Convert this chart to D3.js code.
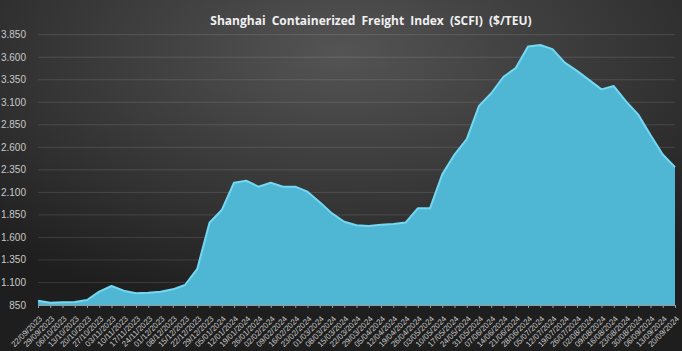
<!DOCTYPE html>
<html>
<head>
<meta charset="utf-8">
<script src="https://cdn.jsdelivr.net/npm/d3@7"></script>
<style>
  body { margin: 0; background: #222; }
  svg { display: block; }
</style>
</head>
<body>
<div id="chart"></div>
<script>
// weekly dates and SCFI values ($/TEU)
const dates = ["22/09/2023", "29/09/2023", "06/10/2023", "13/10/2023", "20/10/2023", "27/10/2023",
  "03/11/2023", "10/11/2023", "17/11/2023", "24/11/2023", "01/12/2023", "08/12/2023", "15/12/2023",
  "22/12/2023", "29/12/2023", "05/01/2024", "12/01/2024", "19/01/2024", "26/01/2024", "02/02/2024",
  "09/02/2024", "16/02/2024", "23/02/2024", "01/03/2024", "08/03/2024", "15/03/2024", "22/03/2024",
  "29/03/2024", "05/04/2024", "12/04/2024", "19/04/2024", "26/04/2024", "03/05/2024", "10/05/2024",
  "17/05/2024", "24/05/2024", "31/05/2024", "07/06/2024", "14/06/2024", "21/06/2024", "28/06/2024",
  "05/07/2024", "12/07/2024", "19/07/2024", "26/07/2024", "02/08/2024", "09/08/2024", "16/08/2024",
  "23/08/2024", "30/08/2024", "06/09/2024", "13/09/2024", "20/09/2024"];

const scfi = [898, 875, 880, 883, 905, 998, 1061, 1009, 980, 987, 998, 1024, 1072,
  1250, 1763, 1904, 2207, 2229, 2163, 2207, 2163, 2163, 2107, 1990, 1867, 1774, 1735,
  1727, 1740, 1750, 1765, 1923, 1923, 2300, 2520, 2690, 3060, 3200, 3383, 3480, 3720,
  3735, 3690, 3540, 3449, 3346, 3243, 3280, 3110, 2963, 2736, 2520, 2380];

const yTicks = [850, 1100, 1350, 1600, 1850, 2100, 2350, 2600, 2850, 3100, 3350, 3600, 3850];

const W = 682, H = 351;
const margin = { top: 35, right: 7, bottom: 46, left: 38 };

const svg = d3.select("#chart").append("svg")
  .attr("width", W)
  .attr("height", H);

// dark radial background
const defs = svg.append("defs");
const bg = defs.append("radialGradient")
  .attr("id", "bg")
  .attr("cx", "50%").attr("cy", "15%").attr("r", "75%");
bg.append("stop").attr("offset", "0%").attr("stop-color", "#545454");
bg.append("stop").attr("offset", "60%").attr("stop-color", "#343434");
bg.append("stop").attr("offset", "100%").attr("stop-color", "#1e1e1e");

svg.append("rect").attr("width", W).attr("height", H).attr("fill", "url(#bg)");

const x = d3.scalePoint()
  .domain(dates)
  .range([margin.left, W - margin.right]);

const y = d3.scaleLinear()
  .domain([850, 3850])
  .range([H - margin.bottom, margin.top - 0.3]);

// grid lines
svg.append("g")
  .selectAll("line")
  .data(yTicks.slice(1))
  .join("line")
  .attr("x1", margin.left)
  .attr("x2", W - margin.right)
  .attr("y1", d => y(d))
  .attr("y2", d => y(d))
  .attr("stroke", "#ffffff")
  .attr("stroke-opacity", 0.12)
  .attr("stroke-width", 1);

// y labels
svg.append("g")
  .selectAll("text")
  .data(yTicks)
  .join("text")
  .attr("x", 26)
  .attr("y", d => y(d) + 3.5)
  .attr("text-anchor", "end")
  .attr("fill", "#c8c8c8")
  .style("font", "10px 'Liberation Sans', sans-serif")
  .text(d => d3.format(",")(d).replace(",", "."));

// area
const area = d3.area()
  .x((d, i) => x(dates[i]))
  .y0(y(850))
  .y1(d => y(d));

const line = d3.line()
  .x((d, i) => x(dates[i]))
  .y(d => y(d));

svg.append("path")
  .datum(scfi)
  .attr("d", area)
  .attr("fill", "#4fb7d4");

svg.append("path")
  .datum(scfi)
  .attr("d", line)
  .attr("fill", "none")
  .attr("stroke", "#74d8f2")
  .attr("stroke-width", 2)
  .attr("stroke-linejoin", "round");

// x axis
const xAxis = svg.append("g")
  .attr("transform", `translate(0,${y(850)})`)
  .call(d3.axisBottom(x).tickSize(3).tickSizeOuter(0));

xAxis.select(".domain").attr("stroke", "#9a9a9a");
xAxis.selectAll(".tick line").attr("stroke", "#9a9a9a");
xAxis.selectAll("text")
  .attr("fill", "#c8c8c8")
  .style("font", "8px 'Liberation Sans', sans-serif")
  .attr("text-anchor", "end")
  .attr("dx", "0")
  .attr("dy", "0")
  .attr("transform", "translate(0,10) rotate(-45)");

// title
svg.append("text")
  .attr("x", 371)
  .attr("y", 25)
  .attr("text-anchor", "middle")
  .attr("fill", "#f0f0f0")
  .style("font", "bold 12px 'Open Sans', sans-serif")
  .style("word-spacing", "3px")
  .text("Shanghai Containerized Freight Index (SCFI) ($/TEU)");
</script>
</body>
</html>
